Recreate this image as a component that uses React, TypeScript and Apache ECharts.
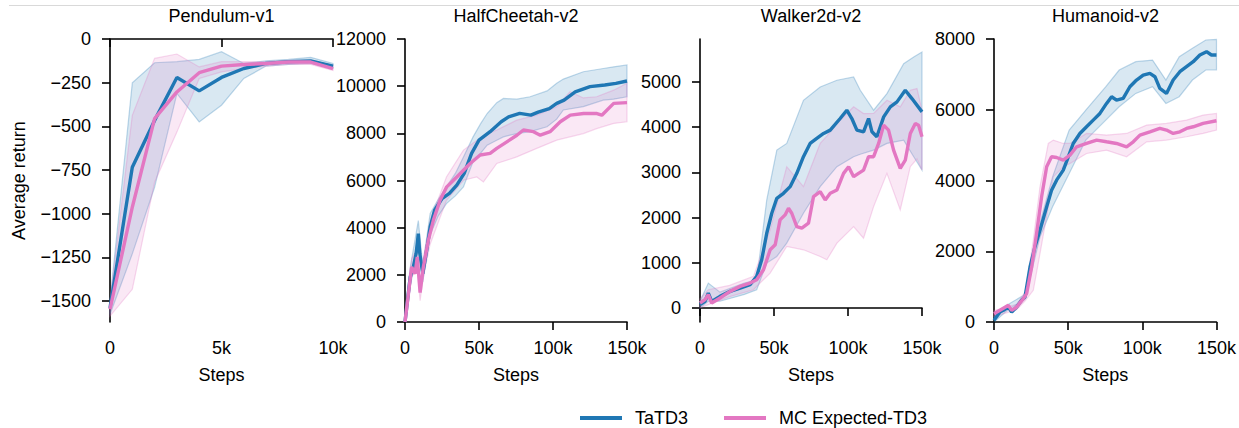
import React, { useEffect, useRef } from "react";
import * as echarts from "echarts";

// ---------- Text ----------
const TITLES = ["Pendulum-v1", "HalfCheetah-v2", "Walker2d-v2", "Humanoid-v2"];
const METHODS = ["TaTD3", "MC Expected-TD3"];
const COLORS = ["#1f77b4", "#e377c2"];
const BAND_FILL = ["rgba(31,119,180,0.17)", "rgba(227,119,194,0.17)"];
const BAND_EDGE = ["rgba(31,119,180,0.28)", "rgba(227,119,194,0.28)"];

// ---------- Axis ranges / ticks ----------
const X_MAX = [10000, 150000, 150000, 150000];
const X_TICKS = [
  [0, 5000, 10000],
  [0, 50000, 100000, 150000],
  [0, 50000, 100000, 150000],
  [0, 50000, 100000, 150000],
];
const Y_MIN = [-1620, 0, -310, 0];
const Y_MAX = [0, 12000, 5950, 8000];
const Y_TICKS = [
  [-1500, -1250, -1000, -750, -500, -250, 0],
  [0, 2000, 4000, 6000, 8000, 10000, 12000],
  [0, 1000, 2000, 3000, 4000, 5000],
  [0, 2000, 4000, 6000, 8000],
];

// ---------- Pendulum-v1 ----------
const pendulumTaTD3 = [
  [0, -1540], [1000, -734], [2000, -466], [3000, -220], [4000, -297], [5000, -220],
  [6000, -169], [7000, -140], [8000, -130], [9000, -125], [10000, -155],
];
const pendulumTaTD3Band = [
  [0, -1577, -1500], [1000, -1230, -251], [2000, -849, -136], [3000, -312, -130],
  [4000, -475, -117], [5000, -379, -73], [6000, -226, -140], [7000, -155, -125],
  [8000, -146, -117], [9000, -140, -105], [10000, -169, -140],
];
const pendulumMC = [
  [0, -1547], [1000, -963], [2000, -456], [3000, -303], [4000, -193], [5000, -155],
  [6000, -146], [7000, -140], [8000, -132], [9000, -132], [10000, -170],
];
const pendulumMCBand = [
  [0, -1586, -1500], [1000, -1433, -437], [2000, -820, -111], [3000, -533, -86],
  [4000, -226, -160], [5000, -188, -130], [6000, -170, -130], [7000, -155, -130],
  [8000, -146, -122], [9000, -146, -122], [10000, -180, -150],
];

// ---------- HalfCheetah-v2 ----------
const cheetahTaTD3 = [
  [0, 0], [3500, 1900], [5500, 2300], [7500, 2900], [9000, 3750], [10000, 2900],
  [12000, 2050], [15000, 3180], [17000, 4030], [20000, 4740], [25000, 5235],
  [30000, 5450], [35000, 5800], [40000, 6300], [45000, 7150], [50000, 7710],
  [57500, 8070], [65000, 8490], [70000, 8700], [77500, 8845], [85000, 8770],
  [90000, 8900], [97500, 9050], [102500, 9270], [107500, 9410], [115000, 9760],
  [125000, 9980], [135000, 10050], [142500, 10120], [150000, 10220],
];
const cheetahTaTD3Band = [
  [0, 0, 300], [3500, 1500, 2300], [9000, 3300, 4300], [12000, 1700, 2400],
  [17000, 3700, 4600], [22500, 4500, 5200], [28000, 5020, 5730], [34000, 5350, 6300],
  [39500, 5730, 7000], [46000, 6800, 7850], [51000, 7150, 8400], [55500, 7500, 8840],
  [62000, 7710, 9300], [66500, 7850, 9480], [75500, 7990, 9450], [84500, 8070, 9550],
  [96000, 8280, 9800], [102500, 8600, 10120], [107000, 8990, 10300],
  [120500, 9130, 10610], [134000, 9410, 10750], [141000, 9450, 10820],
  [150000, 9550, 10900],
];
const cheetahMC = [
  [0, 0], [4500, 2330], [6800, 2050], [8300, 2760], [10200, 1250], [12400, 2330],
  [15800, 3470], [19200, 4320], [23700, 5160], [28200, 5730], [35000, 6150],
  [44000, 6720], [50800, 7080], [57500, 7150], [62000, 7360], [68800, 7640],
  [75600, 7920], [80000, 8140], [86800, 8070], [91400, 7920], [98000, 8070],
  [104900, 8490], [111700, 8770], [120700, 8840], [129700, 8840], [133000, 8770],
  [141000, 9270], [150000, 9300],
];
const cheetahMCBand = [
  [0, 0, 300], [4500, 1900, 2700], [8300, 2300, 3100], [10200, 900, 1600],
  [12400, 1900, 2700], [17000, 3300, 4300], [28000, 5160, 6150], [39500, 6010, 7290],
  [48500, 6150, 7700], [53000, 5940, 7900], [62000, 6720, 8140], [75500, 7000, 8560],
  [89000, 7360, 8770], [102500, 7710, 9130], [111500, 7850, 9760], [120500, 7990, 9500],
  [129500, 8200, 9550], [141000, 8420, 9830], [150000, 8490, 10120],
];

// ---------- Walker2d-v2 ----------
const walkerTaTD3 = [
  [0, 73], [3400, 147], [5600, 330], [7900, 147], [13500, 257], [20300, 367],
  [27100, 441], [33800, 515], [38300, 700], [41700, 1066], [45100, 1654],
  [48500, 2096], [51900, 2426], [56400, 2537], [60900, 2684], [65400, 2978],
  [69900, 3346], [74400, 3640], [78900, 3750], [83500, 3860], [88000, 3934],
  [94700, 4191], [99200, 4375], [102600, 4191], [106000, 3934], [110500, 3897],
  [113900, 4191], [116200, 3897], [119500, 3787], [124100, 4228], [128600, 4449],
  [133100, 4559], [138700, 4816], [143200, 4632], [150000, 4338],
];
const walkerTaTD3Band = [
  [0, 0, 150], [5600, 147, 551], [13500, 150, 350], [30000, 300, 550],
  [38300, 404, 625], [45100, 993, 2390], [51900, 1140, 3493], [58600, 1434, 3640],
  [69900, 2096, 4595], [81200, 2684, 4890], [92500, 3125, 5037], [103800, 3346, 5110],
  [108300, 3400, 4816], [117300, 3493, 4375], [126300, 3640, 4743],
  [137600, 3713, 5404], [144400, 3346, 5551], [150000, 3051, 5662],
];
const walkerMC = [
  [0, 110], [3400, 184], [5600, 294], [7900, 110], [13500, 220], [20300, 367],
  [27100, 478], [33800, 551], [38300, 625], [42900, 846], [47400, 1287],
  [50800, 1397], [54100, 1948], [57500, 2059], [59800, 2206], [62000, 2096],
  [65400, 1801], [68800, 1765], [73300, 1875], [76700, 2463], [81200, 2574],
  [84600, 2390], [88000, 2537], [92500, 2610], [97000, 2978], [100400, 3125],
  [103800, 2904], [107100, 2978], [110500, 3051], [113900, 3346], [117300, 3346],
  [120700, 3640], [124100, 4044], [127400, 3934], [130800, 3493], [135300, 3088],
  [138700, 3272], [142100, 3860], [145500, 4081], [147700, 4044], [150000, 3787],
];
const walkerMCBand = [
  [0, 0, 200], [5600, 73, 404], [20000, 250, 500], [36100, 404, 699],
  [47400, 772, 1728], [58600, 1360, 3125], [69900, 1287, 2684], [81200, 1140, 3640],
  [85700, 1066, 3800], [92500, 1434, 4081], [103800, 1801, 4449], [110500, 1544, 4300],
  [117300, 2243, 4302], [126300, 2978, 4596], [135300, 2169, 4449],
  [142100, 3125, 4816], [146600, 3300, 4853], [150000, 3051, 4375],
];

// ---------- Humanoid-v2 ----------
const humanoidTaTD3 = [
  [0, 47], [4000, 283], [6300, 330], [9700, 425], [11900, 283], [15300, 425],
  [18600, 613], [20900, 708], [24300, 1557], [27600, 2123], [31000, 2594],
  [35500, 3255], [38800, 3726], [42200, 4009], [46700, 4292], [50100, 4670],
  [53400, 5047], [57900, 5330], [62400, 5519], [66900, 5708], [71400, 5896],
  [75900, 6179], [79300, 6368], [82600, 6274], [87100, 6321], [91600, 6651],
  [96100, 6840], [100600, 6981], [105100, 7028], [108500, 6934], [111800, 6604],
  [116300, 6462], [120800, 6840], [125300, 7075], [129800, 7217], [134300, 7358],
  [138800, 7547], [143300, 7642], [146600, 7547], [150000, 7547],
];
const humanoidTaTD3Band = [
  [0, 0, 150], [9700, 350, 500], [20900, 650, 780], [31000, 2400, 2800],
  [39500, 3255, 4104], [50700, 4198, 5425], [61900, 5142, 5990], [75400, 5708, 6651],
  [84400, 6085, 7123], [95600, 6462, 7358], [106900, 6651, 7405], [115900, 6179, 6840],
  [124900, 6368, 7500], [133800, 6840, 7736], [142800, 7123, 7972], [150000, 7123, 7990],
];
const humanoidMC = [
  [0, 236], [4000, 330], [9700, 472], [11900, 330], [15300, 425], [19800, 660],
  [22000, 802], [25400, 1557], [28700, 2500], [32100, 3538], [35500, 4387],
  [38800, 4670], [42200, 4651], [46700, 4575], [51200, 4717], [55700, 4953],
  [62400, 5047], [69200, 5142], [75900, 5094], [82600, 5047], [89400, 4953],
  [93900, 5094], [98400, 5283], [105100, 5377], [111800, 5472], [116300, 5425],
  [120800, 5330], [125300, 5377], [129800, 5472], [134300, 5519], [141000, 5613],
  [150000, 5689],
];
const humanoidMCBand = [
  [0, 150, 320], [15300, 350, 500], [21000, 600, 850], [26500, 896, 2311],
  [31000, 1934, 3821], [36600, 3255, 5047], [40000, 4104, 5142], [46700, 4387, 5047],
  [51200, 4481, 5047], [62400, 4764, 5330], [75900, 4858, 5283], [89400, 4670, 5330],
  [102900, 5094, 5566], [116300, 5142, 5613], [129800, 5236, 5708],
  [141000, 5330, 5849], [150000, 5425, 5896],
];

const MEANS = [
  [pendulumTaTD3, pendulumMC],
  [cheetahTaTD3, cheetahMC],
  [walkerTaTD3, walkerMC],
  [humanoidTaTD3, humanoidMC],
];
const BANDS = [
  [pendulumTaTD3Band, pendulumMCBand],
  [cheetahTaTD3Band, cheetahMCBand],
  [walkerTaTD3Band, walkerMCBand],
  [humanoidTaTD3Band, humanoidMCBand],
];

// ---------- Layout ----------
const GRID_LEFT = [110, 405, 700, 994];
const GRID_WIDTH = [223, 222, 222, 223];
const GRID_TOP = 39;
const GRID_HEIGHT = 283;
const FONT = "'Liberation Sans', Arial, Helvetica, sans-serif";
const FS = 18;

const fmtX = (v: number) => (v === 0 ? "0" : `${v / 1000}k`);
const fmtY = (v: number) => String(v).replace("-", "\u2212");

export default function App() {
  const ref = useRef<HTMLDivElement>(null);

  useEffect(() => {
    if (!ref.current) return;
    const chart = echarts.init(ref.current, undefined, { renderer: "svg" });

    const axisLine = { show: true, lineStyle: { color: "#000", width: 1.6 } };
    const axisTick = (vals: number[]) => ({
      show: true,
      inside: false,
      length: 8,
      customValues: vals,
      lineStyle: { color: "#000", width: 1.6 },
    });

    const grids = TITLES.map((_, i) => ({
      left: GRID_LEFT[i],
      top: GRID_TOP,
      width: GRID_WIDTH[i],
      height: GRID_HEIGHT,
      containLabel: false,
    }));

    const xAxes = TITLES.map((_, i) => ({
      type: "value",
      gridIndex: i,
      min: 0,
      max: X_MAX[i],
      axisLine,
      axisTick: axisTick(X_TICKS[i]),
      splitLine: { show: false },
      axisLabel: {
        customValues: X_TICKS[i],
        formatter: fmtX,
        margin: 17,
        color: "#000",
        fontSize: FS,
        fontFamily: FONT,
        showMinLabel: true,
        showMaxLabel: true,
      },
      name: "Steps",
      nameLocation: "middle",
      nameGap: 44,
      nameTextStyle: { color: "#000", fontSize: FS, fontFamily: FONT },
    }));

    const yAxes = TITLES.map((_, i) => ({
      type: "value",
      gridIndex: i,
      min: Y_MIN[i],
      max: Y_MAX[i],
      axisLine,
      axisTick: axisTick(Y_TICKS[i]),
      splitLine: { show: false },
      axisLabel: {
        customValues: Y_TICKS[i],
        formatter: fmtY,
        margin: 19,
        color: "#000",
        fontSize: FS,
        fontFamily: FONT,
        showMinLabel: true,
        showMaxLabel: true,
      },
      name: i === 0 ? "Average return" : "",
      nameLocation: "middle",
      nameGap: 82,
      nameTextStyle: { color: "#000", fontSize: FS, fontFamily: FONT },
    }));

    const series: any[] = [];
    TITLES.forEach((_, i) => {
      METHODS.forEach((m, j) => {
        const band = BANDS[i][j];
        series.push({
          type: "custom",
          xAxisIndex: i,
          yAxisIndex: i,
          silent: true,
          z: 1,
          data: band,
          encode: { x: 0, y: [1, 2] },
          renderItem: (params: any, api: any) => {
            if (params.dataIndex !== 0) return null;
            const upper = band.map((r) => api.coord([r[0], r[2]]));
            const lower = band
              .slice()
              .reverse()
              .map((r) => api.coord([r[0], r[1]]));
            return {
              type: "polygon",
              shape: { points: upper.concat(lower) },
              style: { fill: BAND_FILL[j], stroke: BAND_EDGE[j], lineWidth: 1.2 },
            };
          },
        });
      });
    });
    TITLES.forEach((_, i) => {
      METHODS.forEach((m, j) => {
        series.push({
          type: "line",
          name: m,
          xAxisIndex: i,
          yAxisIndex: i,
          data: MEANS[i][j],
          showSymbol: false,
          symbol: "none",
          z: 3 + j,
          lineStyle: { color: COLORS[j], width: 3.4 },
          itemStyle: { color: COLORS[j] },
        });
      });
    });

    chart.setOption({
      animation: false,
      backgroundColor: "#fff",
      title: TITLES.map((t, i) => ({
        text: t,
        left: GRID_LEFT[i] + GRID_WIDTH[i] / 2,
        top: 7,
        textAlign: "center",
        padding: 0,
        textStyle: { color: "#000", fontSize: FS, fontWeight: "normal", fontFamily: FONT },
      })),
      legend: {
        data: METHODS,
        left: 575,
        top: 404,
        icon: "rect",
        itemWidth: 42,
        itemHeight: 4,
        itemGap: 36,
        textStyle: { color: "#000", fontSize: FS, fontFamily: FONT, padding: [0, 0, 0, 8] },
      },
      grid: grids,
      xAxis: xAxes,
      yAxis: yAxes,
      series,
      graphic: [
        {
          type: "line",
          shape: { x1: 9, y1: 5.5, x2: 1239, y2: 5.5 },
          style: { stroke: "#d9d9d9", lineWidth: 1 },
          silent: true,
        },
      ],
    });

    return () => chart.dispose();
  }, []);

  return (
    <div
      ref={ref}
      style={{ position: "fixed", left: 0, top: 0, width: 1239, height: 428, background: "#fff" }}
    />
  );
}
